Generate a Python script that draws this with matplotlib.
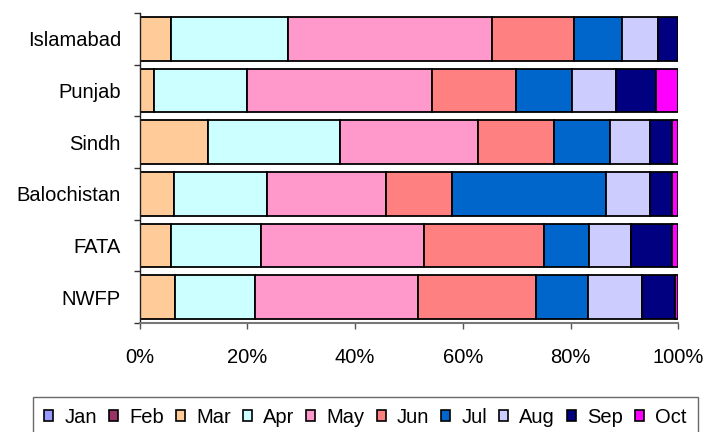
import matplotlib
matplotlib.use("Agg")
import matplotlib.pyplot as plt
from matplotlib.patches import Patch
import numpy as np

plt.rcParams['font.family'] = ['Liberation Sans', 'DejaVu Sans']

regions = ["Islamabad", "Punjab", "Sindh", "Balochistan", "FATA", "NWFP"]
months = ["Jan", "Feb", "Mar", "Apr", "May", "Jun", "Jul", "Aug", "Sep", "Oct"]
colors = ["#9999FF", "#993366", "#FFCC99", "#CCFFFF", "#FF99CC",
          "#FF8080", "#0066CC", "#CCCCFF", "#000080", "#FF00FF"]

# percentage share per month, one list per region (Jan..Oct)
islamabad   = [0, 0, 5.9, 21.6, 37.9, 15.2, 9.0, 6.6, 3.8, 0.0]
punjab      = [0, 0, 2.6, 17.4, 34.2, 15.6, 10.5, 8.1, 7.5, 4.1]
sindh       = [0, 0, 12.6, 24.5, 25.7, 14.1, 10.4, 7.4, 4.2, 1.1]
balochistan = [0, 0, 6.3, 17.4, 22.0, 12.3, 28.5, 8.2, 4.2, 1.1]
fata        = [0, 0, 5.9, 16.7, 30.2, 22.2, 8.5, 7.8, 7.6, 1.1]
nwfp        = [0, 0, 6.6, 14.9, 30.1, 21.9, 9.7, 10.0, 6.1, 0.7]

data = np.array([islamabad, punjab, sindh, balochistan, fata, nwfp], dtype=float)
data = data / data.sum(axis=1, keepdims=True)

fig = plt.figure(figsize=(7.07, 4.32), dpi=100)
ax = fig.add_axes([139.7 / 707, 1 - 323 / 432, (678.3 - 139.7) / 707, (323 - 13) / 432])

y = np.arange(len(regions))
left = np.zeros(len(regions))
for i, m in enumerate(months):
    ax.barh(y, data[:, i], left=left, height=0.85, color=colors[i],
            edgecolor="black", linewidth=1.3, zorder=2)
    left += data[:, i]

ax.set_xlim(0, 1)
ax.set_ylim(len(regions) - 0.5, -0.5)

ax.set_xticks(np.linspace(0, 1, 6))
ax.set_xticklabels([f"{int(v)}%" for v in np.linspace(0, 100, 6)], fontsize=14.5)
ax.set_yticks(y)
ax.set_yticklabels(regions, fontsize=14.5)
ax.set_yticks(np.arange(-0.5, len(regions), 1), minor=True)
ax.tick_params(axis='y', which='major', length=0, pad=13.5)
ax.tick_params(axis='y', which='minor', length=4.5, width=1, color="#333333", direction='out')
ax.tick_params(axis='x', which='major', length=4, width=1, color="#555555", direction='out', pad=14)

for s in ["top", "right"]:
    ax.spines[s].set_visible(False)
ax.spines["left"].set_color("#222222")
ax.spines["bottom"].set_color("#777777")
ax.spines["left"].set_linewidth(1.0)
ax.spines["bottom"].set_linewidth(1.5)

handles = [Patch(facecolor=c, edgecolor="black", linewidth=1.2) for c in colors]
leg = fig.legend(handles, months, loc="upper left",
                 bbox_to_anchor=(33 / 707, 1 - 397 / 432), ncol=10,
                 fontsize=14.5, frameon=True, fancybox=False, shadow=False,
                 handlelength=0.45, handleheight=0.45, handletextpad=0.55,
                 columnspacing=0.6, borderpad=0.55, borderaxespad=0)
leg.get_frame().set_edgecolor("#444444")
leg.get_frame().set_linewidth(1.0)

fig.savefig("out.png", dpi=100)
